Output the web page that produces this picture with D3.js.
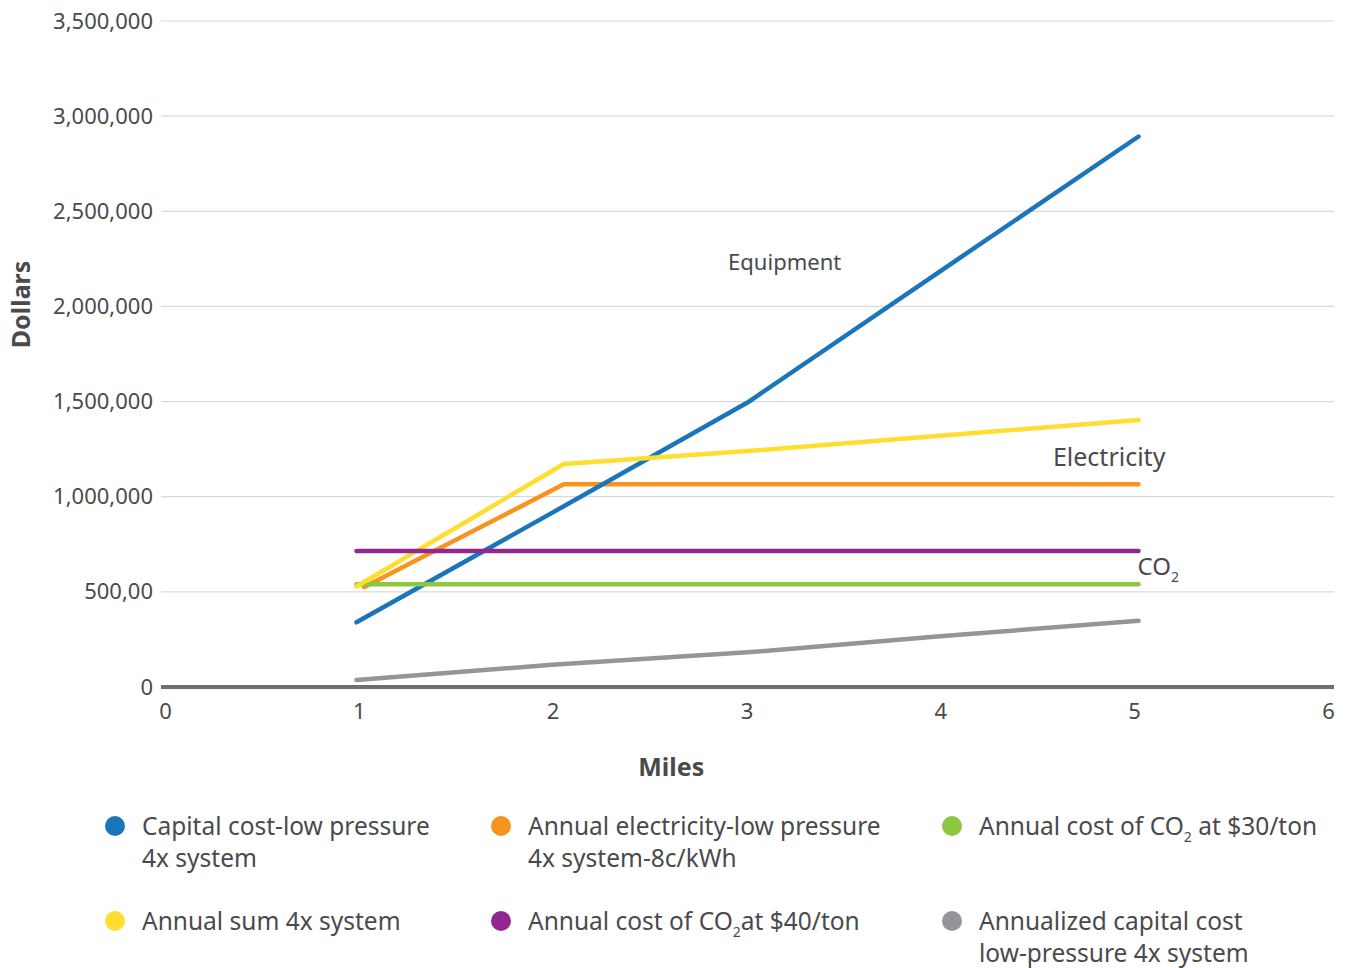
<!DOCTYPE html>
<html>
<head>
<meta charset="utf-8">
<script src="https://cdn.jsdelivr.net/npm/d3@7/dist/d3.min.js"></script>
<style>
  html, body { margin: 0; padding: 0; background: #fff; }
  svg { display: block; font-family: "Noto Sans", "Open Sans", sans-serif; }
</style>
</head>
<body>
<svg id="chart" width="1346" height="968"></svg>
<script>
// ---- Data ----
const xTicks = [0, 1, 2, 3, 4, 5, 6];
const yTicks = [0, 500000, 1000000, 1500000, 2000000, 2500000, 3000000, 3500000];
const yTickLabels = ["0", "500,00", "1,000,000", "1,500,000", "2,000,000", "2,500,000", "3,000,000", "3,500,000"];

const capitalX = [1, 2, 3, 4, 5];
const capital = [340000, 915000, 1495000, 2195000, 2893000];

const electricityX = [1.04, 2.06, 3, 4, 5];
const electricity = [525000, 1065000, 1065000, 1065000, 1065000];

const sumX = [1, 2.06, 3, 4, 5];
const annualSum = [528000, 1172000, 1240000, 1322000, 1403000];

const co2_30X = [1, 2, 3, 4, 5];
const co2_30 = [540000, 540000, 540000, 540000, 540000];

const co2_40X = [1, 2, 3, 4, 5];
const co2_40 = [715000, 715000, 715000, 715000, 715000];

const annualizedX = [1, 2, 3, 4, 5];
const annualized = [37000, 117000, 182000, 268000, 348000];

const seriesNames = [
  ["Capital cost-low pressure", "4x system"],
  ["Annual electricity-low pressure", "4x system-8c/kWh"],
  ["Annual cost of CO|2| at $30/ton"],
  ["Annual sum 4x system"],
  ["Annual cost of CO|2|at $40/ton"],
  ["Annualized capital cost", "low-pressure 4x system"]
];
const colors = ["#1b75bb", "#f7941d", "#8dc63f", "#ffde2f", "#92278f", "#939598"];

// ---- Setup ----
const svg = d3.select("#chart");
const textColor = "#4a4a4c";
const x = d3.scaleLinear().domain([0, 6]).range([161, 1334]);
const xLabel = d3.scaleLinear().domain([0, 6]).range([165, 1328]);
const y = d3.scaleLinear().domain([0, 3500000]).range([687, 21]);

// gridlines
svg.append("g").selectAll("line").data(yTicks.filter(d => d > 0)).join("line")
  .attr("x1", x(0)).attr("x2", x(6))
  .attr("y1", d => y(d)).attr("y2", d => y(d))
  .attr("stroke", "#d9d9d9").attr("stroke-width", 1.2);

// y axis labels
const yAxis = d3.axisLeft(y).tickValues(yTicks)
  .tickFormat((d, i) => yTickLabels[i]).tickSize(0).tickPadding(8);
const gy = svg.append("g").attr("transform", `translate(${x(0)},0)`).call(yAxis);
gy.select(".domain").remove();
gy.selectAll("text").attr("fill", textColor).style("font-size", "22px")
  .style("font-family", "'Noto Sans', sans-serif");

// x axis labels
const xAxis = d3.axisBottom(xLabel).tickValues(xTicks).tickFormat(d3.format("d")).tickSize(0).tickPadding(16);
const gx = svg.append("g").attr("transform", `translate(0,${y(0)})`).call(xAxis);
gx.select(".domain").remove();
gx.selectAll("text").attr("fill", textColor).style("font-size", "22px")
  .style("font-family", "'Noto Sans', sans-serif");

// zero line
svg.append("line")
  .attr("x1", x(0)).attr("x2", x(6))
  .attr("y1", y(0)).attr("y2", y(0))
  .attr("stroke", "#6d6e71").attr("stroke-width", 4);

// axis titles
svg.append("text").attr("transform", `translate(30,${y(2000000) - 2}) rotate(-90)`)
  .attr("text-anchor", "middle").attr("fill", textColor)
  .style("font-size", "25px").style("font-weight", "bold").text("Dollars");
svg.append("text").attr("x", x(2.61)).attr("y", 776)
  .attr("text-anchor", "middle").attr("fill", textColor)
  .style("font-size", "25px").style("font-weight", "bold").text("Miles");

// lines
const series = [
  { xs: electricityX, ys: electricity, c: colors[1] },
  { xs: capitalX, ys: capital, c: colors[0] },
  { xs: co2_30X, ys: co2_30, c: colors[2] },
  { xs: sumX, ys: annualSum, c: colors[3] },
  { xs: co2_40X, ys: co2_40, c: colors[4] },
  { xs: annualizedX, ys: annualized, c: colors[5] }
];
const line = d3.line().x(d => x(d[0])).y(d => y(d[1]));
svg.append("g").selectAll("path").data(series).join("path")
  .attr("d", s => line(s.xs.map((v, i) => [v, s.ys[i]])))
  .attr("fill", "none").attr("stroke", s => s.c)
  .attr("stroke-width", 4.5).attr("stroke-linecap", "round").attr("stroke-linejoin", "round");

// annotations
svg.append("text").attr("x", x(3.19)).attr("y", y(2200000) + 2)
  .attr("text-anchor", "middle").attr("fill", textColor).style("font-size", "22px").text("Equipment");
svg.append("text").attr("x", x(4.85)).attr("y", y(1180000) + 4)
  .attr("text-anchor", "middle").attr("fill", textColor).style("font-size", "25px").text("Electricity");
const co = svg.append("text").attr("x", x(5) - 1).attr("y", y(540000) - 9)
  .attr("fill", textColor).style("font-size", "24px");
co.append("tspan").text("CO");
co.append("tspan").attr("dy", 7).style("font-size", "14px").text("2");

// legend
const colX = [115, 501, 952];
const rowY = [826, 921];
const legendItems = seriesNames.map((name, i) => ({ name, color: colors[i], col: i % 3, row: Math.floor(i / 3) }));
const lg = svg.append("g").selectAll("g").data(legendItems).join("g")
  .attr("transform", d => `translate(${colX[d.col]},${rowY[d.row]})`);
lg.append("circle").attr("r", 10).attr("fill", d => d.color);
lg.each(function (d) {
  const g = d3.select(this);
  d.name.forEach((ln, li) => {
    const t = g.append("text").attr("x", 27).attr("y", 9 + li * 32)
      .attr("fill", textColor).style("font-size", "24.5px");
    const parts = ln.split("|");
    if (parts.length === 1) {
      t.text(ln);
    } else {
      t.append("tspan").text(parts[0]);
      t.append("tspan").attr("dy", 7).style("font-size", "14px").text(parts[1]);
      t.append("tspan").attr("dy", -7).text(parts[2]);
    }
  });
});
</script>
</body>
</html>
